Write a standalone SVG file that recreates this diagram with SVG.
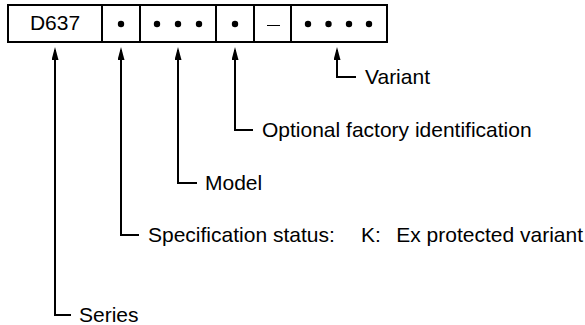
<svg xmlns="http://www.w3.org/2000/svg" width="585" height="325" viewBox="0 0 585 325">
  <style>
    .txt { font-family: "Liberation Sans", Arial, sans-serif; font-size: 21px; fill: #000; }
    .box { fill: #fff; stroke: #000; stroke-width: 2; }
    .conn { fill: none; stroke: #000; stroke-width: 2; }
    .dot { fill: #000; }
  </style>
  <defs>
    <marker id="arr" markerUnits="userSpaceOnUse" viewBox="0 0 13 7" markerWidth="13" markerHeight="7" refX="10" refY="3.5" orient="auto-start-reverse">
      <path d="M0,0 L13,3.5 L0,7 z" fill="#000"/>
    </marker>
  </defs>
  <rect width="585" height="325" fill="#fff"/>

  <g id="code">
    <rect class="box" x="8" y="5" width="379" height="37"/>
    <path class="conn" d="M102,5 V42 M140,5 V42 M216,5 V42 M254,5 V42 M291,5 V42"/>
    <text class="txt" x="55" y="30" text-anchor="middle">D637</text>
    <circle class="dot" cx="121" cy="24" r="3.2"/>
    <circle class="dot" cx="157" cy="24" r="3.2"/>
    <circle class="dot" cx="178" cy="24" r="3.2"/>
    <circle class="dot" cx="199" cy="24" r="3.2"/>
    <circle class="dot" cx="235" cy="24" r="3.2"/>
    <path d="M267,25.5 H280" stroke="#000" stroke-width="1"/>
    <circle class="dot" cx="308" cy="24" r="3.2"/>
    <circle class="dot" cx="328.5" cy="24" r="3.2"/>
    <circle class="dot" cx="349" cy="24" r="3.2"/>
    <circle class="dot" cx="369" cy="24" r="3.2"/>
  </g>

  <g id="connectors">
    <path class="conn" marker-start="url(#arr)" d="M55,50 V315 H71"/>
    <path class="conn" marker-start="url(#arr)" d="M121,50 V235 H139"/>
    <path class="conn" marker-start="url(#arr)" d="M178,50 V183 H197"/>
    <path class="conn" marker-start="url(#arr)" d="M235,50 V130 H253"/>
    <path class="conn" marker-start="url(#arr)" d="M337,50 V77 H356"/>
  </g>

  <g id="series"><text class="txt" x="79" y="322">Series</text></g>
  <g id="spec">
    <text class="txt" x="148" y="242">Specification status:</text>
    <text class="txt" x="361" y="242">K:</text>
    <text class="txt" x="583" y="242" text-anchor="end">Ex protected variant</text>
  </g>
  <g id="model"><text class="txt" x="205" y="190">Model</text></g>
  <g id="optional"><text class="txt" x="262" y="137">Optional factory identification</text></g>
  <g id="variant"><text class="txt" x="365" y="84">Variant</text></g>
</svg>
